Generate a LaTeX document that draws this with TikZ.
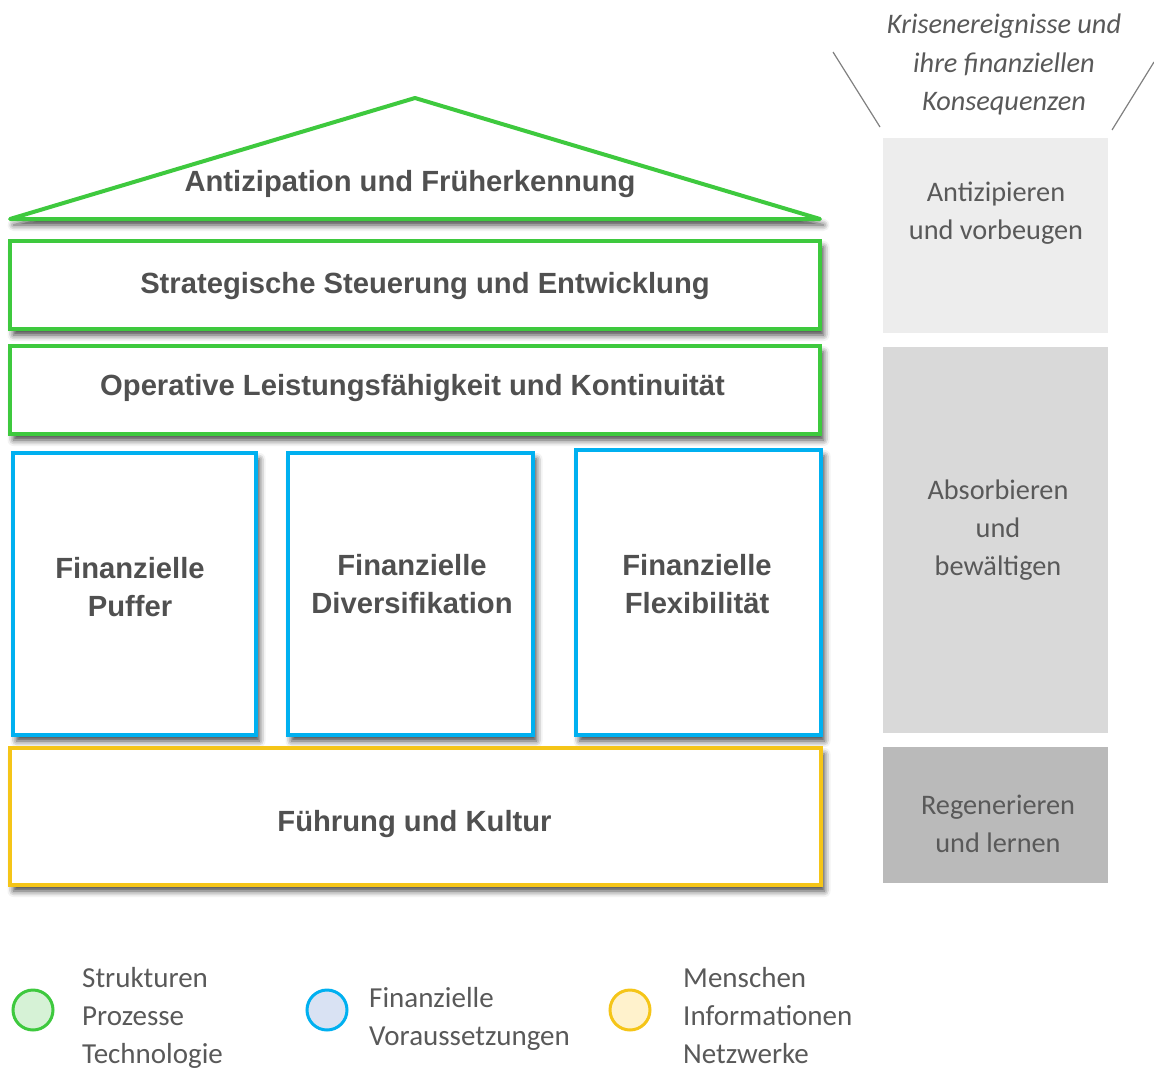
\documentclass[tikz,border=0pt]{standalone}
\usepackage{fontspec}
\setmainfont{Liberation Sans}
\newfontfamily\calibrifont{Carlito}
\usetikzlibrary{shadows.blur}

\definecolor{roofgreen}{RGB}{62,201,62}
\definecolor{pillarblue}{RGB}{0,176,240}
\definecolor{baseyellow}{RGB}{245,197,24}
\definecolor{labelgray}{RGB}{80,80,80}
\definecolor{phaseA}{RGB}{237,237,237}
\definecolor{phaseB}{RGB}{217,217,217}
\definecolor{phaseC}{RGB}{186,186,186}
\definecolor{phasetext}{RGB}{89,89,89}
\definecolor{legendgreen}{RGB}{214,242,214}
\definecolor{legendblue}{RGB}{217,226,243}
\definecolor{legendyellow}{RGB}{255,242,204}
\definecolor{funnelgray}{RGB}{128,128,128}

\begin{document}
\begin{tikzpicture}[x=1pt,y=-1pt,
  houseshadow/.style={blur shadow={shadow xshift=3.5pt,shadow yshift=-6pt,
      shadow blur radius=6pt,shadow opacity=75}},
  block/.style={draw,line width=4pt,fill=white,houseshadow,inner sep=0pt},
  greenblock/.style={block,draw=roofgreen},
  blueblock/.style={block,draw=pillarblue},
  yellowblock/.style={block,draw=baseyellow},
  blocktext/.style={font=\bfseries\fontsize{29.2}{38.5}\selectfont,
      text=labelgray,align=center,inner sep=0pt},
  phasebox/.style={fill=#1,draw=none,inner sep=0pt,minimum width=225pt},
  phasetxt/.style={font=\calibrifont\fontsize{28.3}{38}\selectfont,
      text=phasetext,align=center,inner sep=0pt},
  legendring/.style={circle,draw=#1,line width=3pt,minimum size=40pt,inner sep=0pt},
  legendtxt/.style={font=\calibrifont\fontsize{29}{38}\selectfont,
      text=phasetext,align=left,anchor=west,inner sep=0pt},
]
\useasboundingbox (0,0) rectangle (1154,1068);

% roof
\coordinate (eaveL) at (10,219);
\coordinate (ridge) at (415,98);
\coordinate (eaveR) at (820,219);
\draw[roofgreen,line width=4pt,line join=round,fill=white,houseshadow]
  (eaveL) -- (ridge) -- (eaveR) -- cycle;
\node[blocktext] (roofT) at (410,184.5) {Antizipation und Früherkennung};

% green layers
\node[greenblock,minimum width=810pt,minimum height=88pt] (strat) at (415,285) {};
\node[blocktext] (stratT) at (425,286.5) {Strategische Steuerung und Entwicklung};
\node[greenblock,minimum width=810pt,minimum height=88pt] (oper) at (415,390) {};
\node[blocktext] (operT) at (412.5,388.5) {Operative Leistungsfähigkeit und Kontinuität};

% pillars
\node[blueblock,minimum width=243pt,minimum height=282pt] (p1) at (134.5,594) {};
\node[blocktext] (p1T) at (130,587) {Finanzielle\\Puffer};
\node[blueblock,minimum width=245pt,minimum height=282pt] (p2) at (410.5,594) {};
\node[blocktext] (p2T) at (412,584) {Finanzielle\\Diversifikation};
\node[blueblock,minimum width=245pt,minimum height=285pt] (p3) at (698.5,592.5) {};
\node[blocktext] (p3T) at (697,584) {Finanzielle\\Flexibilität};

% foundation
\node[yellowblock,minimum width=811pt,minimum height=137pt] (base) at (415.5,816.5) {};
\node[blocktext] (baseT) at (414.5,824.5) {Führung und Kultur};

% phases on the right
\node[phasebox=phaseA,minimum height=195pt] (ph1) at (995.5,235.5) {};
\node[phasetxt] (ph1T) at (996,213) {Antizipieren\\und vorbeugen};
\node[phasebox=phaseB,minimum height=386pt] (ph2) at (995.5,540) {};
\node[phasetxt] (ph2T) at (998,530) {Absorbieren\\und\\bewältigen};
\node[phasebox=phaseC,minimum height=136pt] (ph3) at (995.5,815) {};
\node[phasetxt] (ph3T) at (998,824) {Regenerieren\\und lernen};

% crisis events funnel
\node[phasetxt,font=\calibrifont\itshape\fontsize{28.3}{38.5}\selectfont] (crisis) at (1004,64.5)
  {Krisenereignisse und\\ihre finanziellen\\Konsequenzen};
\coordinate (funLa) at (833,52);
\coordinate (funLb) at (880,127);
\coordinate (funRa) at (1154,62);
\coordinate (funRb) at (1112,130);
\draw[funnelgray,line width=1.2pt] (funLa) -- (funLb);
\draw[funnelgray,line width=1.2pt] (funRa) -- (funRb);

% legend
\node[legendring=roofgreen,fill=legendgreen] (lg1) at (33,1010) {};
\node[legendtxt] (lg1T) at (82,1018) {Strukturen\\Prozesse\\Technologie};
\node[legendring=pillarblue,fill=legendblue] (lg2) at (327,1010) {};
\node[legendtxt] (lg2T) at (369,1019) {Finanzielle\\Voraussetzungen};
\node[legendring=baseyellow,fill=legendyellow] (lg3) at (630,1010) {};
\node[legendtxt] (lg3T) at (683,1016) {Menschen\\Informationen\\Netzwerke};
\end{tikzpicture}
\end{document}
